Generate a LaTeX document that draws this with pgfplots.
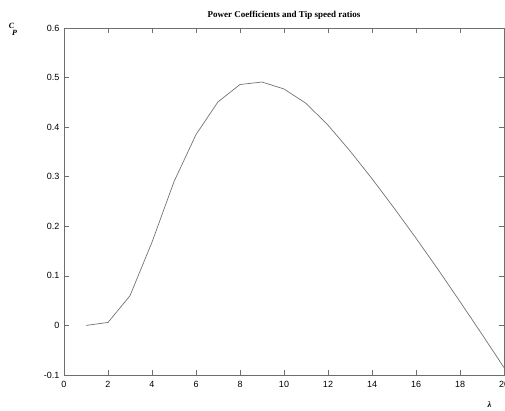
\documentclass[border=0pt]{standalone}
\usepackage{pgfplots}
\pgfplotsset{compat=1.18}
\usepackage{fontspec}
\setmainfont{Liberation Sans}
\newfontfamily\titlefont{Liberation Serif}
\definecolor{axgray}{RGB}{110,110,110}
\definecolor{lngray}{RGB}{115,115,115}
\begin{document}
\begin{tikzpicture}
\begin{axis}[
  scale only axis,
  width=440pt, height=347pt,
  xmin=0, xmax=20, ymin=-0.1, ymax=0.6,
  xtick={0,2,...,20}, ytick={-0.1,0,0.1,0.2,0.3,0.4,0.5,0.6},
  axis line style={axgray, line width=0.7pt},
  tick style={axgray, line width=0.6pt},
  major tick length=5pt,
  tick align=inside,
  ticklabel style={font=\fontsize{9}{10}\selectfont, text=black},
  /pgf/number format/assume math mode=true,
  /pgf/number format/.cd, fixed, precision=1, /pgfplots/.cd,
  yticklabel style={xshift=-1pt},
  xticklabel style={yshift=-2.5pt},
  title={\titlefont\bfseries Power Coefficients and Tip speed ratios},
  title style={at={(0.5,1)}, anchor=south, yshift=-1pt, font=\fontsize{9}{10}\selectfont},
  clip=false,
]
\addplot[lngray, line width=0.7pt] coordinates {
(1,0.000) (2,0.006) (3,0.060) (4,0.168) (5,0.290) (6,0.385) (7,0.451)
(8,0.486) (9,0.491) (10,0.477) (11,0.448) (12,0.404) (13,0.352) (14,0.296)
(15,0.237) (16,0.176) (17,0.113) (18,0.048) (19,-0.018) (20,-0.085)
};
\end{axis}
\node[inner sep=0pt] at ([xshift=-52.5pt,yshift=2.5pt]current axis.north west) {\titlefont\bfseries\itshape\fontsize{8}{8}\selectfont C};
\node[inner sep=0pt] at ([xshift=-49.5pt,yshift=-4.5pt]current axis.north west) {\titlefont\bfseries\itshape\fontsize{8}{8}\selectfont P};
\node[inner sep=0pt] at ([xshift=-14.5pt,yshift=-30pt]current axis.south east) {\titlefont\bfseries\itshape\fontsize{8.5}{8.5}\selectfont λ};
\pgfresetboundingbox
\useasboundingbox ([xshift=-64pt,yshift=-36pt]current axis.south west) rectangle ([xshift=1pt,yshift=28pt]current axis.north east);
\end{tikzpicture}
\end{document}
